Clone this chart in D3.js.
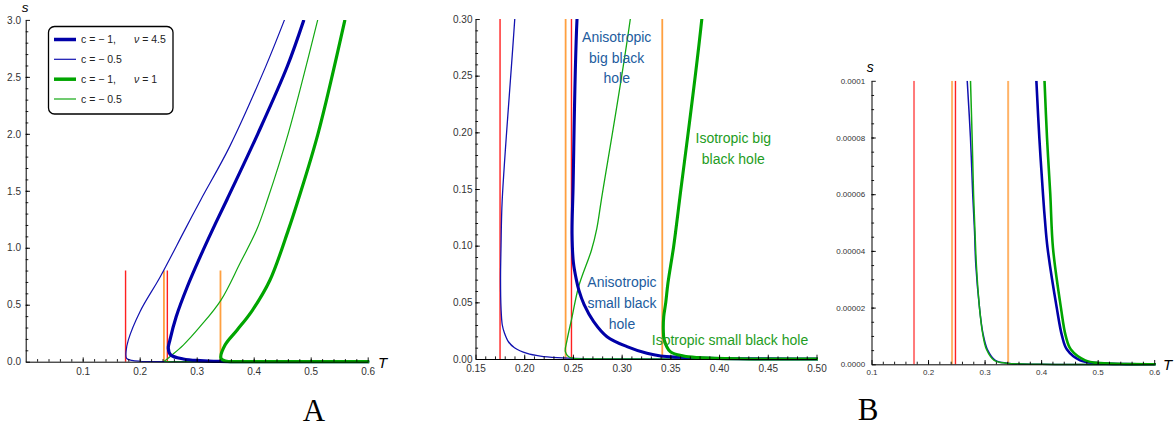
<!DOCTYPE html>
<html><head><meta charset="utf-8">
<script src="https://cdn.jsdelivr.net/npm/d3@7"></script>
<style>body{margin:0;background:#fff}svg{display:block}</style>
</head><body><svg id="c" width="1175" height="429"></svg>
<script>
// ---------------- DATA (T, s) ----------------
// Panel A (0 <= T <= 0.6, 0 <= s <= 3)
const A_blueThick = [[0.488,3.0],[0.459,2.593],[0.408,2.009],[0.3532,1.424],[0.3275,1.155],[0.306,0.92],[0.2835,0.658],[0.264,0.395],[0.253,0.19],[0.2502,0.117],[0.2545,0.059],[0.2765,0.024],[0.306,0.009],[0.34,0.002],[0.40,0.0002],[0.62,0]];
const A_blueThin  = [[0.454,3.0],[0.421,2.59],[0.358,1.89],[0.307,1.42],[0.279,1.155],[0.2361,0.746],[0.2005,0.439],[0.180,0.19],[0.176,0.088],[0.177,0.03],[0.186,0.012],[0.2,0.004],[0.25,0.0008],[0.3,0.0001],[0.62,0]];
const A_greenThick= [[0.560,3.0],[0.513,2.004],[0.478,1.419],[0.4607,1.155],[0.4286,0.717],[0.398,0.4535],[0.371,0.278],[0.3497,0.146],[0.3426,0.03],[0.35,0.006],[0.38,0.001],[0.45,0.0001],[0.62,0]];
const A_greenThin = [[0.5123,3.0],[0.4607,2.004],[0.424,1.419],[0.405,1.155],[0.376,0.864],[0.3426,0.541],[0.3058,0.307],[0.2765,0.146],[0.253,0.044],[0.246,0.015],[0.2435,0.006],[0.25,0.001],[0.3,0.0001],[0.62,0]];
// Panel B (0.15 <= T <= 0.5, 0 <= s <= 0.3)
const B_blueThick = [[0.262,0.395],[0.2542,0.3],[0.2501,0.15],[0.2491,0.11],[0.2505,0.085],[0.2535,0.07],[0.256,0.061],[0.2615,0.048],[0.2713,0.033],[0.285,0.0197],[0.3055,0.0109],[0.326,0.005],[0.340,0.0026],[0.36,0.0015],[0.40,0.0004],[0.45,0.0001],[0.52,0]];
const B_blueThin  = [[0.2005,0.439],[0.1903,0.3],[0.1774,0.14],[0.1762,0.1],[0.1757,0.07],[0.1762,0.045],[0.1775,0.03],[0.1797,0.023],[0.184,0.015],[0.19,0.01],[0.203,0.005],[0.2166,0.0026],[0.234,0.0012],[0.26,0.0003],[0.3,0.00003],[0.52,0]];
const B_greenThick= [[0.398,0.4535],[0.3823,0.3],[0.3594,0.14],[0.3535,0.1],[0.3475,0.0668],[0.3453,0.05],[0.3432,0.0373],[0.3428,0.025],[0.3437,0.0168],[0.3499,0.0065],[0.3635,0.0026],[0.38,0.0012],[0.42,0.0002],[0.52,0]];
const B_greenThin = [[0.3426,0.541],[0.3089,0.3],[0.2791,0.14],[0.2745,0.115],[0.269,0.096],[0.2559,0.064],[0.2491,0.037],[0.244,0.0168],[0.2422,0.0065],[0.2456,0.002],[0.2508,0.0006],[0.27,0.0001],[0.52,0]];
// Panel C (0.1 <= T <= 0.6, 0 <= s <= 0.0001)
const C_blueThick = [[0.3916,1e-4],[0.3968,8e-5],[0.4033,6e-5],[0.4067,5.1e-5],[0.4114,4.1e-5],[0.4276,2e-5],[0.437,1e-5],[0.4457,5.2e-6],[0.469,1.4e-6],[0.4986,4e-7],[0.55,5e-8],[0.62,0]];
const C_blueThin  = [[0.2693,1e-4],[0.275,8e-5],[0.279,6e-5],[0.2822,4.7e-5],[0.2845,3.5e-5],[0.291,2e-5],[0.297,1.1e-5],[0.305,5.2e-6],[0.319,1.4e-6],[0.340,4e-7],[0.40,2e-8],[0.62,0]];
const C_greenThick= [[0.406,1e-4],[0.4104,8e-5],[0.4162,6e-5],[0.421,4.1e-5],[0.435,2e-5],[0.4435,1e-5],[0.4527,5.2e-6],[0.478,1.4e-6],[0.5044,4e-7],[0.56,5e-8],[0.62,0]];
const C_greenThin = [[0.2751,1e-4],[0.278,8e-5],[0.2805,6e-5],[0.283,4.7e-5],[0.2855,3.5e-5],[0.291,2e-5],[0.2965,1.1e-5],[0.3035,5.2e-6],[0.317,1.4e-6],[0.338,4e-7],[0.40,2e-8],[0.62,0]];
// vertical marker lines
const vlineT    = [0.1752, 0.2485, 0.2425, 0.3417];
const vlineKind = ["red","red","orange","orange"];
const A_vlineTop = 0.8;
// ticks
const A_xTicks = [0.1,0.2,0.3,0.4,0.5,0.6];
const A_yTicks = [0,0.5,1.0,1.5,2.0,2.5,3.0];
const B_xTicks = [0.15,0.20,0.25,0.30,0.35,0.40,0.45,0.50];
const B_yTicks = [0,0.05,0.10,0.15,0.20,0.25,0.30];
const C_xTicks = [0.1,0.2,0.3,0.4,0.5,0.6];
const C_yTicks = [0,0.00002,0.00004,0.00006,0.00008,0.0001];
const C_yTickLabels = ["0.0000","0.00002","0.00004","0.00006","0.00008","0.0001"];
// legend
const legendC  = ["c = \u2212 1,","c = \u2212 0.5","c = \u2212 1,","c = \u2212 0.5"];
const legendNu = ["4.5","","1",""];
// annotations in panel B
const annBigAniso   = ["Anisotropic","big black","hole"];
const annBigIso     = ["Isotropic big","black hole"];
const annSmallAniso = ["Anisotropic","small black","hole"];
const annSmallIso   = ["Isotropic small black hole"];

// ---------------- DRAWING ----------------
const svg = d3.select('#c');
const FONT = "'Liberation Sans', Arial, sans-serif";
const COL = {blue:'#0000a8', blueThin:'#1212b0', green:'#00a500', greenThin:'#12a812', red:'#ff2020', orange:'#ffa040'};

function drawPanel(p){
  const x = d3.scaleLinear().domain(p.xDom).range(p.xRng);
  const y = d3.scaleLinear().domain(p.yDom).range(p.yRng);
  const g = svg.append('g');
  const cid = 'clip' + p.id;
  svg.append('clipPath').attr('id', cid).append('rect')
    .attr('x', p.xRng[0]).attr('y', p.yRng[1])
    .attr('width', p.xRng[1] - p.xRng[0] + 1.5).attr('height', p.yRng[0] - p.yRng[1] + 2.2);
  const pg = g.append('g').attr('clip-path', `url(#${cid})`);
  vlineT.forEach((t,i)=>{
    const st = p.vStyle(i);
    pg.append('line').attr('x1', x(t)).attr('x2', x(t))
      .attr('y1', y(0)).attr('y2', y(p.vTop))
      .attr('stroke', st.c).attr('stroke-width', st.w);
  });
  const line = d3.line().x(d=>x(d[0])).y(d=>y(d[1])).curve(d3.curveCatmullRom.alpha(0.5));
  p.series.forEach(s=>{
    pg.append('path').attr('d', line(s.data)).attr('fill','none')
      .attr('stroke', s.c).attr('stroke-width', s.w).attr('stroke-linejoin','round');
  });
  const styleAxis = (sel, fs) => {
    sel.attr('font-family', FONT).attr('font-size', fs);
    sel.selectAll('.domain').attr('stroke','#000').attr('stroke-width',1);
    sel.selectAll('.tick line').attr('stroke','#000').attr('stroke-width',0.9);
    sel.selectAll('.tick text').attr('fill','#333');
  };
  const yMinor = g.append('g').attr('transform',`translate(${p.xRng[0]},0)`)
    .call(d3.axisLeft(y).tickValues(p.yMinor).tickSize(-2.6).tickFormat(''));
  yMinor.select('.domain').remove();
  styleAxis(yMinor, p.fs);
  const xMinor = g.append('g').attr('transform',`translate(0,${p.yRng[0]})`)
    .call(d3.axisBottom(x).tickValues(p.xMinor).tickSize(-2.6).tickFormat(''));
  xMinor.select('.domain').remove();
  styleAxis(xMinor, p.fs);
  const yAx = g.append('g').attr('transform',`translate(${p.xRng[0]},0)`)
    .call(d3.axisLeft(y).tickValues(p.yTicks).tickSize(-4.3).tickSizeOuter(0).tickPadding(p.yPad).tickFormat(p.yFmt));
  styleAxis(yAx, p.fs);
  const xAx = g.append('g').attr('transform',`translate(0,${p.yRng[0]})`)
    .call(d3.axisBottom(x).tickValues(p.xTicks).tickSize(-4.3).tickSizeOuter(0).tickPadding(p.xPad).tickFormat(p.xFmt));
  styleAxis(xAx, p.fs);
  return {x, y, g};
}

const rng = (a,b,st) => d3.range(Math.round((b-a)/st)+1).map(i => +(a + i*st).toFixed(8));
const vStyleAB = i => vlineKind[i]==='red' ? {c:COL.red,w:1.4} : {c:COL.orange,w:1.8};

drawPanel({
  id:'A', xDom:[0,0.6], xRng:[25.7,367.7], yDom:[0,3], yRng:[361.7,19.9],
  vTop:A_vlineTop, vStyle:vStyleAB,
  series:[
    {data:A_blueThin,c:COL.blueThin,w:1.2},{data:A_greenThin,c:COL.greenThin,w:1.2},
    {data:A_blueThick,c:COL.blue,w:3.2},{data:A_greenThick,c:COL.green,w:3.2}],
  xTicks:A_xTicks, yTicks:A_yTicks,
  xMinor:rng(0.02,0.58,0.02), yMinor:rng(0.1,2.9,0.1),
  xFmt:d3.format('.1f'), yFmt:d3.format('.1f'), xPad:6.2, yPad:4.7, fs:10
});
drawPanel({
  id:'B', xDom:[0.15,0.5], xRng:[475.5,816.5], yDom:[0,0.3], yRng:[359,19],
  vTop:0.3, vStyle:vStyleAB,
  series:[
    {data:B_blueThin,c:COL.blueThin,w:1.3},{data:B_greenThin,c:COL.greenThin,w:1.3},
    {data:B_blueThick,c:COL.blue,w:3.1},{data:B_greenThick,c:COL.green,w:3.1}],
  xTicks:B_xTicks, yTicks:B_yTicks,
  xMinor:rng(0.16,0.49,0.01), yMinor:rng(0.01,0.29,0.01),
  xFmt:d3.format('.2f'), yFmt:d3.format('.2f'), xPad:5.6, yPad:3, fs:10
});
drawPanel({
  id:'C', xDom:[0.1,0.6], xRng:[871.5,1154.2], yDom:[0,0.0001], yRng:[364.3,80.8],
  vTop:0.0001,
  vStyle:i => i===0 ? {c:'#ff7a7a',w:2} : (vlineKind[i]==='red' ? {c:COL.red,w:1.4} : {c:'#ffb368',w:2}),
  series:[
    {data:C_blueThin,c:COL.blueThin,w:1.5},{data:C_greenThin,c:COL.greenThin,w:1.5},
    {data:C_blueThick,c:COL.blue,w:2.6},{data:C_greenThick,c:COL.green,w:2.6}],
  xTicks:C_xTicks, yTicks:C_yTicks,
  xMinor:rng(0.12,0.58,0.02), yMinor:rng(0.000005,0.000095,0.000005),
  xFmt:d3.format('.1f'), yFmt:(d,i)=>C_yTickLabels[i], xPad:5, yPad:6.4, fs:8
});

// axis titles
const title = (x,y,t,fs,anchor) => svg.append('text').attr('x',x).attr('y',y).text(t)
  .attr('font-family',FONT).attr('font-style','italic').attr('font-size',fs)
  .attr('text-anchor',anchor||'start').attr('fill','#000');
title(25,12,'s',13.5,'middle');
title(378,368.3,'T',15);
title(870.3,71.5,'s',14,'middle');
title(1163,369.5,'T',15);

// panel letters
svg.append('text').attr('x',314).attr('y',421).attr('text-anchor','middle')
  .attr('font-family',"'Liberation Serif','Times New Roman',serif").attr('font-size',31).text('A');
svg.append('text').attr('x',868).attr('y',420).attr('text-anchor','middle')
  .attr('font-family',"'Liberation Serif','Times New Roman',serif").attr('font-size',31).text('B');

// legend
const lg = svg.append('g');
lg.append('rect').attr('x',48.5).attr('y',26.5).attr('width',124.5).attr('height',87.5)
  .attr('rx',6).attr('fill','#fff').attr('stroke','#000').attr('stroke-width',1.3);
const legRows = [39.5,59.3,79.2,99];
const legStyle = [{c:COL.blue,w:3.5},{c:COL.blueThin,w:1.2},{c:COL.green,w:3.5},{c:COL.greenThin,w:1.2}];
legendC.forEach((t,i)=>{
  const yy = legRows[i];
  lg.append('line').attr('x1',54).attr('x2',76).attr('y1',yy).attr('y2',yy)
    .attr('stroke',legStyle[i].c).attr('stroke-width',legStyle[i].w);
  lg.append('text').attr('x',81).attr('y',yy+3.8).attr('font-family',FONT).attr('font-size',10.5)
    .attr('fill','#222').text(t);
  if (legendNu[i]) {
    const tx = lg.append('text').attr('x',134).attr('y',yy+3.8).attr('font-family',FONT)
      .attr('font-size',10.5).attr('fill','#222');
    tx.append('tspan').attr('font-style','italic').text('\u03bd');
    tx.append('tspan').text(' = ' + legendNu[i]);
  }
});

// annotations panel B
const ann = (lines, cx, y0, dy, col) => {
  lines.forEach((t,i)=> svg.append('text').attr('x',cx).attr('y',y0+i*dy)
    .attr('text-anchor','middle').attr('font-family',FONT).attr('font-size',14)
    .attr('fill',col).text(t));
};
const annBlue = '#225c9e', annGreen = '#1e9c22';
ann(annBigAniso, 616.7, 41.7, 20.8, annBlue);
ann(annBigIso, 733.3, 143.3, 20.7, annGreen);
ann(annSmallAniso, 622, 286.7, 21, annBlue);
ann(annSmallIso, 730, 345, 20, annGreen);
</script>
</body></html>
